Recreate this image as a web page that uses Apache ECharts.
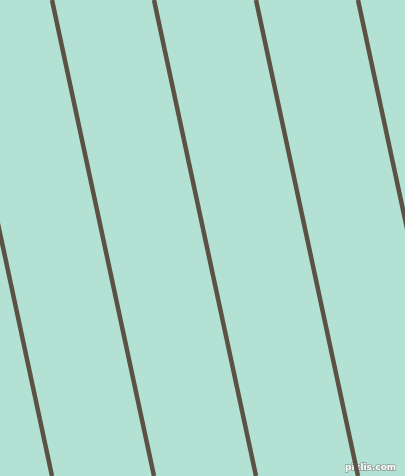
<!DOCTYPE html>
<html>
<head>
<meta charset="utf-8">
<script src="https://cdn.jsdelivr.net/npm/echarts@6/dist/echarts.min.js"></script>
<style>
  html, body { margin: 0; padding: 0; background: #b3e2d5; }
  #chart { width: 405px; height: 476px; }
</style>
</head>
<body>
<div id="chart"></div>
<script>
// x position of each stripe at the top (y = 0) and at the bottom (y = 476)
const stripeTopX = [-50, 52, 154, 256, 358]
const stripeBottomX = [52, 154, 256, 358, 460]
const frameHeight = 476
const frameWidth = 405

const chart = echarts.init(document.getElementById('chart'))

const series = stripeTopX.map((x0, i) => ({
  type: 'line',
  data: [[x0, 0], [stripeBottomX[i], frameHeight]],
  symbol: 'none',
  silent: true,
  lineStyle: { color: '#5b5145', width: 4.5 }
}))

const option = {
  backgroundColor: '#b3e2d5',
  animation: false,
  grid: { left: 0, right: 0, top: 0, bottom: 0 },
  xAxis: { type: 'value', min: 0, max: frameWidth, show: false },
  yAxis: { type: 'value', min: 0, max: frameHeight, inverse: true, show: false },
  graphic: [{
    type: 'text',
    right: 8,
    bottom: 3,
    style: {
      text: 'pixlis.com',
      font: 'bold 9px "DejaVu Sans"',
      fill: '#ffffff',
      stroke: '#8a9a94',
      lineWidth: 1.5
    }
  }],
  series: series
}

chart.setOption(option)
</script>
</body>
</html>
